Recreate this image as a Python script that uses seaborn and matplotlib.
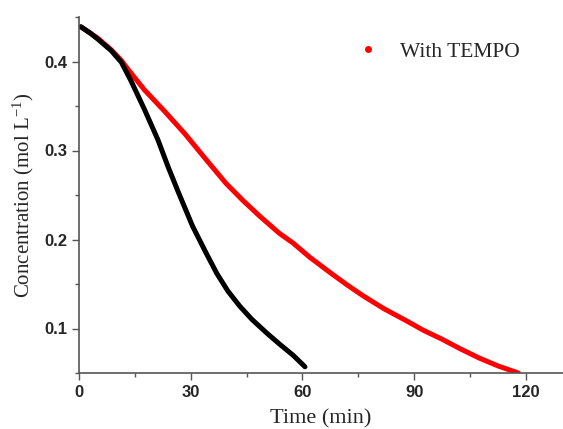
import matplotlib
matplotlib.use("Agg")
import matplotlib.pyplot as plt
from matplotlib.lines import Line2D
from matplotlib.ticker import MultipleLocator
import seaborn as sns
import pandas as pd

# Without TEMPO (black)
time_plain = [0.5, 3.0, 5.1, 8.7, 11.4, 14.0, 17.6, 21.2, 23.9, 26.6, 30.5, 34.0, 37.0, 40.0, 43.2, 46.5, 50.4, 54.0, 57.5, 60.7]
conc_plain = [0.439, 0.432, 0.425, 0.412, 0.399, 0.378, 0.346, 0.312, 0.282, 0.254, 0.215, 0.186, 0.162, 0.142, 0.125, 0.110, 0.095, 0.082, 0.070, 0.057]

# With TEMPO (red)
time_tempo = [0.5, 3.0, 5.1, 8.7, 11.4, 13.2, 17.6, 23.0, 28.4, 33.7, 39.5, 44.0, 48.6, 53.8, 57.5, 62.0, 67.4, 72.0, 76.2, 82.0, 87.8, 92.5, 97.5, 102.5, 107.4, 112.5, 118.0]
conc_tempo = [0.439, 0.432, 0.426, 0.413, 0.401, 0.391, 0.368, 0.344, 0.319, 0.292, 0.263, 0.244, 0.226, 0.207, 0.196, 0.180, 0.163, 0.149, 0.137, 0.122, 0.109, 0.098, 0.088, 0.077, 0.067, 0.058, 0.050]

legend_label = "With TEMPO"
x_label = "Time (min)"
y_label = r"Concentration (mol L$^{\mathregular{-1}}$)"
x_ticks = [0, 30, 60, 90, 120]
y_ticks = [0.1, 0.2, 0.3, 0.4]

df_plain = pd.DataFrame({"t": time_plain, "c": conc_plain})
df_tempo = pd.DataFrame({"t": time_tempo, "c": conc_tempo})

sns.set_style("ticks")
plt.rcParams["font.family"] = ["Liberation Sans", "DejaVu Sans"]
plt.rcParams["mathtext.default"] = "regular"

fig = plt.figure(figsize=(5.63, 4.29), dpi=100)
ax = fig.add_axes([79 / 563, 1 - 373 / 429, 484 / 563, (373 - 17) / 429])

sns.lineplot(data=df_tempo, x="t", y="c", ax=ax, color="#ff0000", linewidth=3.6,
             sort=False, solid_capstyle="round", solid_joinstyle="round")
sns.lineplot(data=df_plain, x="t", y="c", ax=ax, color="#000000", linewidth=3.6,
             sort=False, solid_capstyle="round", solid_joinstyle="round")

ax.set_xlim(0, 130)
ax.set_ylim(0.05, 0.45)
ax.set_xticks(x_ticks)
ax.set_yticks(y_ticks)
ax.set_xticklabels([str(v) for v in x_ticks], fontweight="bold", fontsize=12)
ax.set_yticklabels([f"{v:.1f}" for v in y_ticks], fontweight="bold", fontsize=12)
ax.xaxis.set_minor_locator(MultipleLocator(15))
ax.yaxis.set_minor_locator(MultipleLocator(0.05))
ax.tick_params(which="major", direction="out", length=5, width=1, color="#555555", pad=3.5)
ax.tick_params(which="minor", direction="out", length=3, width=1, color="#555555")

for side in ["top", "right"]:
    ax.spines[side].set_visible(False)
for side in ["left", "bottom"]:
    ax.spines[side].set_color("#555555")
    ax.spines[side].set_linewidth(1.2)

ax.set_xlabel(x_label, family="Liberation Serif", fontsize=16, labelpad=6.5)
ax.set_ylabel(y_label, family="Liberation Serif", fontsize=15, labelpad=6)

handle = Line2D([], [], color="#ff0000", marker="o", markersize=4, linestyle="none")
leg = ax.legend([handle], [legend_label], loc="upper left", bbox_to_anchor=(0.574, 0.93),
                frameon=False, borderpad=0, borderaxespad=0, handlelength=1.0,
                handletextpad=1.0, prop={"family": "Liberation Serif", "size": 15.5})

fig.savefig("out.png", dpi=100)
